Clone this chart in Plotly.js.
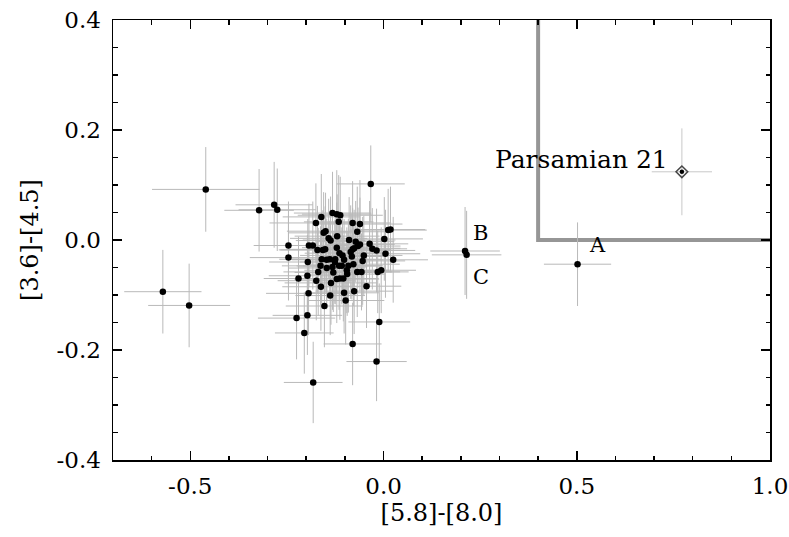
<!DOCTYPE html>
<html><head><meta charset="utf-8">
<script src="https://cdn.plot.ly/plotly-3.0.1.min.js"></script>
<style>html,body{margin:0;padding:0;background:#fff}</style>
</head><body><div id="chart" style="width:789px;height:537px"></div>
<script>
// Sources: [5.8]-[8.0] colour (x), [3.6]-[4.5] colour (y), and their errors
const starX = [
 -0.132,-0.121,-0.112,-0.161,-0.175,-0.116,-0.080,-0.061,-0.155,-0.150,
 -0.068,-0.120,-0.142,-0.137,-0.089,-0.072,-0.061,-0.066,-0.193,-0.183,
 -0.157,-0.151,-0.121,-0.080,-0.076,-0.171,-0.114,-0.106,-0.085,-0.082,
 -0.051,-0.160,-0.147,-0.139,-0.196,-0.125,-0.126,-0.102,-0.054,-0.163,
 -0.132,-0.147,-0.115,-0.108,-0.091,-0.078,-0.197,-0.169,-0.130,-0.095,
 -0.094,-0.068,-0.057,-0.121,-0.113,-0.104,-0.174,-0.136,-0.162,-0.102,
 -0.076,-0.194,-0.138,-0.098,-0.153,
 -0.246,-0.246,-0.220,-0.225,-0.197,-0.205,-0.182,-0.033,-0.011,-0.080,
 -0.018,-0.044,0.025,0.012,0.018,0.002,0.005,-0.015,-0.006,-0.018,
 -0.029,-0.036,
 -0.460,-0.322,-0.283,-0.275,-0.571,-0.503,
 0.502,0.211,0.215
];
const starY = [
 0.049,0.047,0.045,0.042,0.031,0.033,0.031,0.029,0.013,0.016,
 0.015,0.007,0.003,-0.001,0.000,-0.003,-0.008,-0.011,-0.010,-0.010,
 -0.018,-0.017,-0.014,-0.017,-0.015,-0.018,-0.024,-0.028,-0.022,-0.030,
 -0.028,-0.035,-0.036,-0.035,-0.040,-0.035,-0.040,-0.036,-0.038,-0.047,
 -0.049,-0.051,-0.047,-0.047,-0.047,-0.044,-0.065,-0.058,-0.059,-0.055,
 -0.062,-0.058,-0.058,-0.071,-0.070,-0.070,-0.074,-0.078,-0.085,-0.096,
 -0.093,-0.097,-0.101,-0.110,-0.120,
 -0.010,-0.032,-0.070,-0.142,-0.137,-0.169,-0.259,0.102,-0.149,-0.189,
 -0.221,-0.084,-0.036,0.018,0.019,0.002,-0.025,-0.058,-0.055,-0.019,
 -0.016,-0.007,
 0.092,0.054,0.064,0.055,-0.094,-0.119,
 -0.044,-0.020,-0.027
];
const starErrX = [
 0.10,0.09,0.11,0.10,0.12,0.09,0.10,0.11,0.09,0.10,
 0.08,0.11,0.10,0.09,0.12,0.10,0.09,0.11,0.10,0.09,
 0.11,0.10,0.09,0.10,0.12,0.10,0.09,0.11,0.10,0.08,
 0.10,0.11,0.09,0.10,0.10,0.12,0.09,0.10,0.11,0.10,
 0.09,0.10,0.11,0.10,0.09,0.12,0.10,0.09,0.10,0.11,
 0.10,0.09,0.10,0.11,0.10,0.09,0.10,0.12,0.10,0.09,
 0.10,0.11,0.09,0.10,0.10,
 0.09,0.10,0.09,0.10,0.09,0.076,0.076,0.088,0.08,0.075,
 0.078,0.09,0.09,0.10,0.09,0.10,0.09,0.08,0.09,0.10,
 0.09,0.10,
 0.139,0.09,0.10,0.10,0.10,0.106,
 0.087,0.09,0.09
];
const starErrY = [
 0.075,0.080,0.070,0.078,0.072,0.085,0.076,0.080,0.074,0.070,
 0.082,0.076,0.072,0.080,0.078,0.074,0.085,0.070,0.076,0.080,
 0.072,0.078,0.082,0.075,0.070,0.080,0.076,0.074,0.085,0.078,
 0.072,0.080,0.075,0.070,0.078,0.082,0.076,0.074,0.080,0.072,
 0.078,0.075,0.080,0.070,0.085,0.076,0.074,0.080,0.072,0.078,
 0.076,0.082,0.070,0.080,0.075,0.078,0.072,0.076,0.080,0.074,
 0.078,0.076,0.072,0.080,0.075,
 0.08,0.078,0.076,0.075,0.072,0.074,0.074,0.07,0.07,0.075,
 0.072,0.076,0.078,0.075,0.078,0.076,0.08,0.075,0.078,0.076,
 0.074,0.078,
 0.077,0.075,0.078,0.075,0.076,0.076,
 0.076,0.08,0.08
];

// Parsamian 21
const parX = [0.772];
const parY = [0.124];
const parErrX = [0.078];
const parErrY = [0.079];

// Selection box corner line
const boxX = [0.4, 0.4, 1.0];
const boxY = [0.4, 0.0, 0.0];

// Labels
const labelText = ['Parsamian 21', 'B', 'C', 'A'];
const labelX = [0.512, 0.252, 0.252, 0.553];
const labelY = [0.147, 0.013, -0.067, -0.009];
const labelSize = [25, 21, 21, 21];

// Tick labels
const xTickVals = [-0.5, 0.0, 0.5, 1.0];
const xTickText = ['-0.5', '0.0', '0.5', '1.0'];
const yTickVals = [-0.4, -0.2, 0.0, 0.2, 0.4];
const yTickText = ['-0.4', '-0.2', '0.0', '0.2', '0.4'];

const FONT = 'DejaVu Serif, Liberation Serif, serif';
const ebColor = 'rgb(185,185,185)';

const traces = [
  {
    x: boxX, y: boxY, type: 'scatter', mode: 'lines',
    line: {color: 'rgb(150,150,150)', width: 4},
    hoverinfo: 'skip', cliponaxis: false
  },
  {
    x: starX, y: starY, type: 'scatter', mode: 'markers',
    marker: {color: 'black', size: 6.5},
    error_x: {type: 'data', array: starErrX, color: ebColor, thickness: 1, width: 0},
    error_y: {type: 'data', array: starErrY, color: ebColor, thickness: 1, width: 0}
  },
  {
    x: parX, y: parY, type: 'scatter', mode: 'markers',
    marker: {symbol: 'diamond-open', color: 'rgb(70,70,70)', size: 9, line: {width: 1.5}},
    error_x: {type: 'data', array: parErrX, color: 'rgb(200,200,200)', thickness: 1, width: 0},
    error_y: {type: 'data', array: parErrY, color: 'rgb(200,200,200)', thickness: 1, width: 0}
  },
  {
    x: parX, y: parY, type: 'scatter', mode: 'markers',
    marker: {symbol: 'circle', color: 'black', size: 4.5}
  }
];

const annotations = labelText.map((t, i) => ({
  text: t, x: labelX[i], y: labelY[i], xref: 'x', yref: 'y',
  showarrow: false, font: {family: FONT, size: labelSize[i], color: 'black'}
}));

const axisCommon = {
  showgrid: false, zeroline: false, showline: true, mirror: 'ticks',
  linecolor: 'black', linewidth: 1.5,
  ticks: 'inside', ticklen: 9, tickwidth: 1.5, tickcolor: 'black',
  tickfont: {family: FONT, size: 23, color: 'black'},
  tickmode: 'array'
};

const layout = {
  width: 789, height: 537,
  margin: {l: 113, r: 19, t: 20, b: 77},
  paper_bgcolor: 'white', plot_bgcolor: 'white',
  showlegend: false,
  font: {family: FONT, color: 'black'},
  xaxis: Object.assign({}, axisCommon, {
    range: [-0.7, 1.0],
    tickvals: xTickVals, ticktext: xTickText,
    ticklabelstandoff: 5,
    minor: {ticks: 'inside', ticklen: 4.5, tickwidth: 1.5, tickcolor: 'black', tick0: 0, dtick: 0.1},
    title: {text: '[5.8]-[8.0]', font: {family: FONT, size: 24, color: 'black'}, standoff: 3}
  }),
  yaxis: Object.assign({}, axisCommon, {
    range: [-0.4, 0.4],
    tickvals: yTickVals, ticktext: yTickText,
    ticklabelstandoff: 6,
    minor: {ticks: 'inside', ticklen: 4.5, tickwidth: 1.5, tickcolor: 'black', tick0: 0, dtick: 0.05},
    title: {text: '[3.6]-[4.5]', font: {family: FONT, size: 24, color: 'black'}, standoff: 11}
  }),
  annotations: annotations
};

Plotly.newPlot('chart', traces, layout, {displayModeBar: false, staticPlot: true});
</script>
</body></html>
